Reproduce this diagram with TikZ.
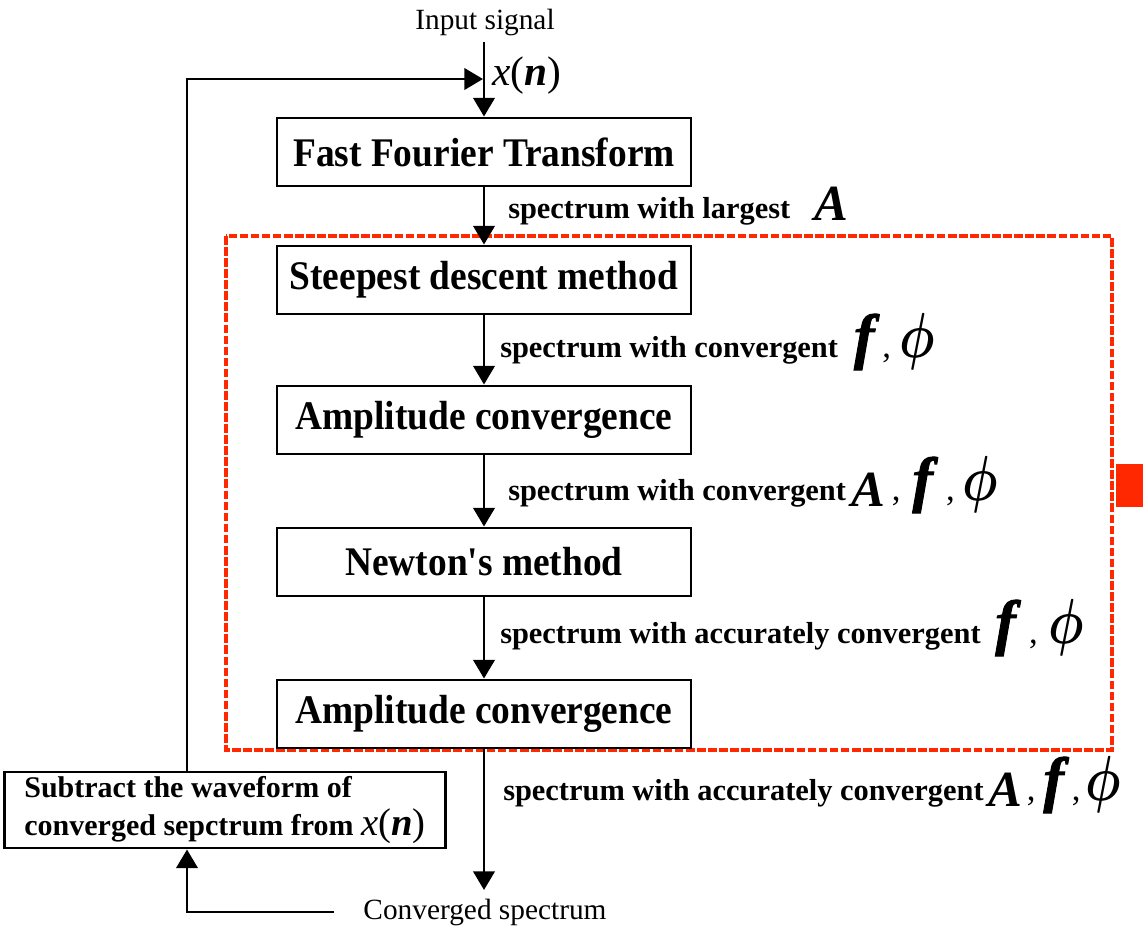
\documentclass[tikz,border=0pt]{standalone}
\usepackage{fontspec}
\setmainfont{Liberation Serif}
\newfontfamily\boxfont[FakeStretch=0.92]{Liberation Serif}
\newfontfamily\ffont[FakeBold=1.5]{Liberation Serif}
\usetikzlibrary{arrows.meta}
\definecolor{dred}{RGB}{255,40,0}
\newcommand\sy[1]{{\fontsize{38}{40}\selectfont\bfseries\itshape #1}}
\newcommand\Asym{\raisebox{-5pt}{\sy{A}}}
\newcommand\fsym{{\ffont\fontsize{46}{48}\selectfont\itshape f}}
\newcommand\ph{\scalebox{1.8}[2.3]{\boldmath$\phi$}}
\newcommand\cm{{\fontsize{26}{30}\selectfont\mdseries ,}}
\begin{document}
\begin{tikzpicture}[x=0.75pt,y=-0.75pt,
  box/.style={draw, line width=2.2pt, minimum width=310.5pt, minimum height=51pt, inner sep=0pt, font=\boxfont\bfseries\fontsize{30.5}{32}\selectfont},
  arr/.style={line width=2.2pt, -{Triangle[length=14pt,width=16pt]}},
  lbl/.style={anchor=base west, inner sep=0pt, font=\bfseries\fontsize{22.8}{26}\selectfont},
  plain/.style={inner sep=0pt, font=\fontsize{22}{26}\selectfont},
  ]
\useasboundingbox (0,0) rectangle (1143,933);
% red dashed region
\draw[dred, line width=3pt, dash pattern=on 6.5pt off 1.8pt] (226,236) rectangle (1112,750);
\fill[dred] (1116,464) rectangle (1143,507);
% nodes
\node[plain] (input) at (485,22) {Input signal};
\coordinate (inTop) at (484,42);
\node[box] (fft) at (484,152) {Fast Fourier Transform};
\node[box] (sd) at (484,280) {Steepest descent method};
\node[box] (ac1) at (484,420) {Amplitude convergence};
\node[box] (nm) at (484,562) {Newton's method};
\node[box] (ac2) at (484,714) {Amplitude convergence};
\coordinate (outEnd) at (484,890);
\node[plain] (conv) at (485,912) {Converged spectrum};
\coordinate (convL) at (334,912);
\node[draw, line width=2.2pt, minimum width=330pt, minimum height=57pt, inner ysep=0pt, inner xsep=15pt,
  align=left, font=\bfseries\fontsize{22.5}{29}\selectfont] (sub) at (225,810)
  {Subtract the waveform of\\converged sepctrum from {\fontsize{29}{29}\selectfont\mdseries\textit{x}(\textbf{\textit{n}})}};
\coordinate (fbTop) at (187,79);
\coordinate (join) at (483,79);
\node[anchor=west, inner sep=0pt, font=\fontsize{31}{33}\selectfont] (xn) at (492,76) {\textit{x}(\textbf{\textit{n}})};
% connectors
\draw[arr] (inTop) -- (fft.north);
\draw[arr] (sub.north -| fbTop) -- (fbTop) -- (join);
\draw[arr] (fft.south) -- (sd.north);
\draw[arr] (sd.south) -- (ac1.north);
\draw[arr] (ac1.south) -- (nm.north);
\draw[arr] (nm.south) -- (ac2.north);
\draw[arr] (ac2.south) -- (outEnd);
\draw[arr] (convL) -| (sub.south -| fbTop);
% labels
\node[lbl] (l1) at (508,218) {spectrum with largest\hspace{18pt}\raisebox{-2pt}{\sy{A}}};
\node[lbl] (l2) at (500,357) {spectrum with convergent\hspace{12pt}\fsym\hspace{6pt}\cm\hspace{6pt}\ph};
\node[lbl] (l3) at (508,500) {spectrum with convergent\hspace{4pt}\Asym\hspace{5pt}\cm\hspace{9pt}\fsym\hspace{10pt}\cm\hspace{6pt}\ph};
\node[lbl] (l4) at (500,643) {spectrum with accurately convergent\hspace{11pt}\fsym\hspace{10pt}\cm\hspace{8pt}\ph};
\node[lbl] (l5) at (503,800) {spectrum with accurately convergent\hspace{4pt}\Asym\hspace{3pt}\cm\hspace{6pt}\fsym\hspace{6pt}\cm\hspace{4pt}\ph};
\end{tikzpicture}
\end{document}
